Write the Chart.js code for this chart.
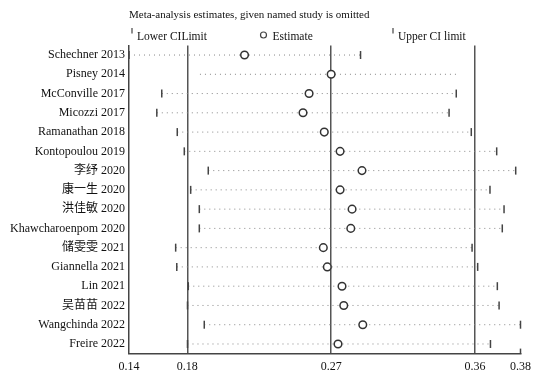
<!DOCTYPE html>
<html>
<head>
<meta charset="utf-8">
<script src="https://cdn.jsdelivr.net/npm/chart.js@4.4.0/dist/chart.umd.min.js"></script>
<style>
    body { margin: 0; background: #fff; }
    canvas { display: block; }
</style>
</head>
<body>
<canvas id="influenceChart" width="548" height="372"></canvas>
<script>
// studies, top to bottom
const studies = [
    "Schechner 2013", "Pisney 2014", "McConville 2017", "Micozzi 2017",
    "Ramanathan 2018", "Kontopoulou 2019", "李纾 2020", "康一生 2020",
    "洪佳敏 2020", "Khawcharoenpom 2020", "储雯雯 2021", "Giannella 2021",
    "Lin 2021", "吴苗苗 2022", "Wangchinda 2022", "Freire 2022"
];
const estimate = [
    0.2158, 0.2700, 0.2562, 0.2524, 0.2657, 0.2756, 0.2893, 0.2756,
    0.2831, 0.2823, 0.2651, 0.2676, 0.2768, 0.2779, 0.2898, 0.2743
];
const lowerCI = [
    0.1435, 0.1879, 0.1640, 0.1609, 0.1737, 0.1781, 0.1931, 0.1821,
    0.1875, 0.1875, 0.1727, 0.1734, 0.1806, 0.1801, 0.1906, 0.1801
];
const upperCI = [
    0.2884, 0.3488, 0.3483, 0.3438, 0.3577, 0.3736, 0.3855, 0.3694,
    0.3782, 0.3771, 0.3582, 0.3617, 0.3740, 0.3751, 0.3885, 0.3697
];
// rows where the CI end marks are not drawn
const noEndMarks = ["Pisney 2014"];

const tickValues = [0.1435, 0.18, 0.27, 0.36, 0.3885];
const tickLabels = ["0.14", "0.18", "0.27", "0.36", "0.38"];

const chartTitle = "Meta-analysis estimates, given named study is omitted";
const legendLabels = ["Lower CILimit", "Estimate", "Upper CI limit"];

const serif = "'Liberation Serif', 'Noto Sans CJK SC', serif";

function markRadius(ctx) {
    return noEndMarks.includes(studies[ctx.dataIndex]) ? 0 : 4;
}

let datasets = [];

datasets.push({
    label: "Estimate",
    data: studies.map((s, i) => ({ x: estimate[i], y: s })),
    showLine: false,
    pointStyle: "circle",
    pointRadius: 3.8,
    pointBorderWidth: 1.5,
    pointBorderColor: "#333",
    pointBackgroundColor: "#fff",
    order: 0,
    clip: false
});

datasets.push({
    label: "Lower",
    data: studies.map((s, i) => ({ x: lowerCI[i], y: s })),
    showLine: false,
    pointStyle: "line",
    rotation: 90,
    pointRadius: markRadius,
    pointBorderWidth: 1.5,
    pointBorderColor: "#444",
    order: 1,
    clip: false
});

datasets.push({
    label: "Upper",
    data: studies.map((s, i) => ({ x: upperCI[i], y: s })),
    showLine: false,
    pointStyle: "line",
    rotation: 90,
    pointRadius: markRadius,
    pointBorderWidth: 1.5,
    pointBorderColor: "#444",
    order: 1,
    clip: false
});

studies.forEach(function (s, i) {
    datasets.push({
        label: "ci-" + i,
        data: [{ x: lowerCI[i], y: s }, { x: upperCI[i], y: s }],
        showLine: true,
        borderColor: "#888",
        borderWidth: 1,
        borderDash: [1, 4],
        pointRadius: 0,
        order: 2
    });
});

// title, legend and the short end tick
const decorations = {
    id: "decorations",
    afterDraw(chart) {
        const ctx = chart.ctx;
        const area = chart.chartArea;
        ctx.save();
        ctx.fillStyle = "#111";
        ctx.textBaseline = "middle";
        ctx.textAlign = "left";
        ctx.font = "11px " + serif;
        ctx.fillText(chartTitle, 129, 15);

        const colW = (area.right - area.left) / 3;
        ctx.font = "11.5px " + serif;
        ctx.strokeStyle = "#444";
        for (let i = 0; i < 3; i++) {
            const x0 = area.left + 3 + i * colW;
            ctx.lineWidth = 1.2;
            ctx.beginPath();
            if (i === 1) {
                ctx.arc(x0 + 1, 35, 3, 0, Math.PI * 2);
                ctx.stroke();
                ctx.fillText(legendLabels[i], x0 + 10, 37);
            } else {
                ctx.moveTo(x0, 28);
                ctx.lineTo(x0, 33.5);
                ctx.stroke();
                ctx.fillText(legendLabels[i], x0 + 5, 37);
            }
        }

        const xs = chart.scales.x;
        const xr = xs.getPixelForValue(tickValues[tickValues.length - 1]);
        ctx.strokeStyle = "#444";
        ctx.lineWidth = 1.5;
        ctx.beginPath();
        ctx.moveTo(xr, area.bottom);
        ctx.lineTo(xr, area.bottom - 5);
        ctx.stroke();
        ctx.restore();
    }
};

new Chart(document.getElementById("influenceChart").getContext("2d"), {
    type: "scatter",
    data: { datasets: datasets },
    plugins: [decorations],
    options: {
        responsive: false,
        animation: false,
        layout: { padding: { top: 45.4, right: 27.5, bottom: 0, left: 0 } },
        plugins: {
            legend: { display: false },
            title: { display: false },
            tooltip: { enabled: false }
        },
        scales: {
            x: {
                type: "linear",
                min: tickValues[0],
                max: tickValues[tickValues.length - 1],
                afterBuildTicks: function (scale) {
                    scale.ticks = tickValues.map(v => ({ value: v }));
                },
                afterFit: function (scale) { scale.height = 18.4; },
                ticks: {
                    autoSkip: false,
                    maxRotation: 0,
                    padding: 6,
                    color: "#111",
                    font: { family: serif, size: 12 },
                    callback: function (v, i) { return tickLabels[i]; }
                },
                grid: {
                    drawTicks: false,
                    lineWidth: 1.5,
                    color: function (c) {
                        return (c.index >= 1 && c.index <= 3) ? "#555" : "rgba(0,0,0,0)";
                    }
                },
                border: { display: true, color: "#444", width: 1.5 }
            },
            y: {
                type: "category",
                labels: studies,
                offset: true,
                afterFit: function (scale) { scale.width = 129; },
                ticks: {
                    padding: 4,
                    color: "#111",
                    font: { family: serif, size: 12 }
                },
                grid: { display: false, drawTicks: false },
                border: { display: true, color: "#444", width: 1.5 }
            }
        }
    }
});
</script>
</body>
</html>
